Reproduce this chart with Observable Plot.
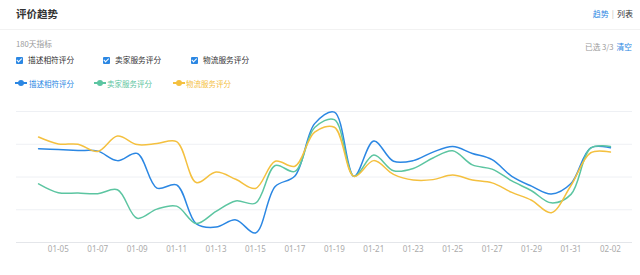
<!DOCTYPE html>
<html>
<head>
<meta charset="utf-8">
<script src="https://cdn.jsdelivr.net/npm/d3@7"></script>
<script src="https://cdn.jsdelivr.net/npm/@observablehq/plot@0.6"></script>
<style>
  html, body { margin: 0; padding: 0; background: #fff; width: 640px; height: 275px; overflow: hidden;
    font-family: "Noto Sans CJK SC", "Noto Sans", sans-serif; }
  .abs { position: absolute; white-space: nowrap; line-height: 1; }
  #title { left: 16px; top: 9px; font-size: 10.5px; font-weight: bold; color: #333; }
  #switch { right: 7px; top: 10px; font-size: 8px; color: #333; }
  #switch .on { color: #2b87e3; }
  #switch .sep { color: #bbb; margin: 0 3px; }
  #divider { left: 0; top: 29px; width: 640px; height: 1px; background: #f2f2f2; }
  #sub { left: 16px; top: 40px; font-size: 7.7px; color: #999; }
  #sel { right: 8px; top: 43px; font-size: 7.7px; color: #999; }
  #sel .clr { color: #2b87e3; margin-left: 3px; }
  .chk { top: 56px; font-size: 7.7px; color: #333; display: flex; align-items: center; height: 8px; }
  .chk .box { width: 6.5px; height: 6.5px; background: #2b87e3; border-radius: 1px; position: absolute; left: 0; top: 1px; }
  .chk .box::after { content: ""; position: absolute; left: 2px; top: 0.3px; width: 1.5px; height: 3.5px;
    border: solid #fff; border-width: 0 1px 1px 0; transform: rotate(45deg); }
  .chk .lbl { position: absolute; left: 12px; top: 0; }
  .leg { top: 79px; font-size: 7.5px; height: 8px; }
  .leg svg { position: absolute; left: 0; top: 0; }
  .leg .lbl { position: absolute; top: 0.5px; }
  #chart { position: absolute; left: 0; top: 95px; }
</style>
</head>
<body>
<div id="title" class="abs">评价趋势</div>
<div id="switch" class="abs"><span class="on">趋势</span><span class="sep">|</span>列表</div>
<div id="divider" class="abs"></div>
<div id="sub" class="abs">180天指标</div>
<div id="sel" class="abs">已选 3/3<span class="clr">清空</span></div>
<div id="checks"></div>
<div id="legend"></div>
<div id="chart"></div>
<script>
const dates = ["01-04","01-05","01-06","01-07","01-08","01-09","01-10","01-11","01-12","01-13",
  "01-14","01-15","01-16","01-17","01-18","01-19","01-20","01-21","01-22","01-23",
  "01-24","01-25","01-26","01-27","01-28","01-29","01-30","01-31","02-01","02-02"];
const seriesNames = ["描述相符评分", "卖家服务评分", "物流服务评分"];
const colors = ["#2b87e3", "#5cc5a1", "#f4c03f"];
const describe = [4.886,4.884,4.881,4.879,4.850,4.872,4.766,4.776,4.657,4.647,
  4.669,4.629,4.771,4.803,4.963,4.998,4.802,4.910,4.848,4.850,
  4.876,4.893,4.872,4.853,4.802,4.772,4.748,4.780,4.889,4.889];
const seller = [4.779,4.752,4.751,4.749,4.761,4.674,4.702,4.711,4.658,4.695,
  4.727,4.720,4.835,4.817,4.951,4.975,4.802,4.867,4.819,4.826,
  4.858,4.880,4.837,4.824,4.788,4.758,4.721,4.747,4.888,4.893];
const logistics = [4.922,4.901,4.900,4.878,4.925,4.899,4.902,4.908,4.783,4.815,
  4.793,4.765,4.848,4.833,4.937,4.952,4.802,4.850,4.808,4.791,
  4.792,4.806,4.791,4.782,4.753,4.729,4.691,4.774,4.874,4.876];
const gridValues = [4.6, 4.7, 4.8, 4.9, 5.0];
const tickLabels = dates.filter((d, i) => i % 2 === 1);

// header checkboxes & legend
const checkX = [16, 103, 191];
const legendX = [15, 94, 173];
const legendTextOffset = [14, 13, 13];
const checks = document.getElementById("checks");
const legend = document.getElementById("legend");
seriesNames.forEach((name, i) => {
  const c = document.createElement("div");
  c.className = "abs chk";
  c.style.left = checkX[i] + "px";
  c.innerHTML = `<span class="box"></span><span class="lbl">${name}</span>`;
  checks.appendChild(c);
  const l = document.createElement("div");
  l.className = "abs leg";
  l.style.left = legendX[i] + "px";
  l.style.color = colors[i];
  l.innerHTML = `<svg width="12" height="8"><line x1="0" y1="4" x2="12" y2="4" stroke="${colors[i]}" stroke-width="2"/><circle cx="6" cy="4" r="3" fill="${colors[i]}"/></svg><span class="lbl" style="left:${legendTextOffset[i]}px">${name}</span>`;
  legend.appendChild(l);
});

const rows = [];
[describe, seller, logistics].forEach((arr, s) => {
  arr.forEach((v, i) => rows.push({date: dates[i], value: v, series: seriesNames[s]}));
});

const chart = Plot.plot({
  width: 640,
  height: 180,
  marginLeft: 16,
  marginRight: 8,
  marginTop: 16,
  marginBottom: 33,
  style: {fontFamily: "'Noto Sans', 'Noto Sans CJK SC', sans-serif", fontSize: "8px", background: "transparent"},
  x: {type: "point", domain: dates, padding: 1.12, round: false, label: null},
  y: {domain: [4.6, 5.0], axis: null},
  color: {domain: seriesNames, range: colors},
  marks: [
    Plot.ruleY(gridValues.slice(1), {stroke: "#eef0f4", strokeWidth: 1}),
    Plot.ruleY([gridValues[0]], {stroke: "#e4e6ea", strokeWidth: 1}),
    Plot.axisX({ticks: tickLabels, tickSize: 0, tickPadding: 4, color: "#aaa", fill: "#aaa"}),
    Plot.line(rows, {x: "date", y: "value", z: "series", stroke: "series", strokeWidth: 1.5, curve: "catmull-rom"})
  ]
});
document.getElementById("chart").appendChild(chart);
</script>
</body>
</html>
